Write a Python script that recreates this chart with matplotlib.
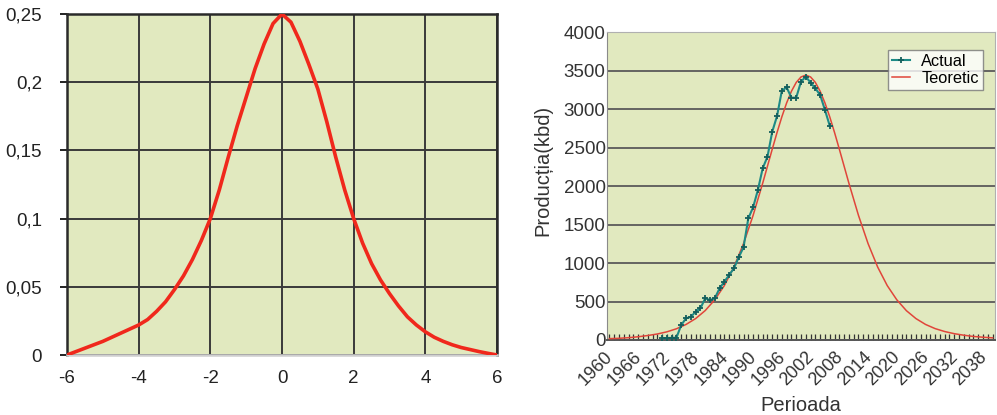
import matplotlib
matplotlib.use("Agg")
import matplotlib.pyplot as plt
import matplotlib.transforms as mtransforms
from matplotlib.ticker import FuncFormatter, MultipleLocator

# left panel: bell curve
bell_x = [-6, -5.75, -5.5, -5.25, -5, -4.75, -4.5, -4.25, -4, -3.75, -3.5, -3.25,
          -3, -2.75, -2.5, -2.25, -2, -1.75, -1.5, -1.25, -1, -0.75, -0.5, -0.25,
          0, 0.25, 0.5, 0.75, 1, 1.25, 1.5, 1.75, 2, 2.25, 2.5, 2.75, 3, 3.25,
          3.5, 3.75, 4, 4.25, 4.5, 4.75, 5, 5.25, 5.5, 5.75, 6]
bell_y = [0, 0.0025, 0.005, 0.0075, 0.010, 0.013, 0.016, 0.019, 0.022, 0.026,
          0.032, 0.039, 0.048, 0.058, 0.070, 0.084, 0.100, 0.121, 0.145, 0.168,
          0.189, 0.210, 0.228, 0.243, 0.25, 0.244, 0.230, 0.213, 0.195, 0.171,
          0.145, 0.121, 0.100, 0.082, 0.067, 0.055, 0.045, 0.036, 0.028, 0.022,
          0.017, 0.013, 0.010, 0.0075, 0.0055, 0.004, 0.0025, 0.0012, 0]

# right panel: production (kbd)
actual_years = list(range(1971, 2007))
actual_kbd = [22, 25, 28, 30, 195, 281, 300, 368, 411, 541, 519, 541, 671, 757, 844,
              931, 1074, 1204, 1580, 1723, 1948, 2229, 2381, 2706, 2909, 3238, 3281,
              3147, 3147, 3355, 3420, 3342, 3268, 3182, 2987, 2783]

theo_years = [1960, 1962, 1964, 1966, 1968, 1970, 1972, 1974, 1976, 1978, 1980,
              1982, 1984, 1986, 1988, 1990, 1992, 1994, 1995, 1996, 1997, 1998,
              1999, 2000, 2001, 2002, 2003, 2004, 2005, 2006, 2007, 2008, 2010,
              2012, 2014, 2016, 2018, 2020, 2022, 2024, 2026, 2028, 2030, 2032,
              2034, 2036, 2038, 2040]
theo_kbd = [18, 22, 30, 42, 58, 78, 106, 146, 202, 278, 382,
            522, 707, 948, 1252, 1618, 2036, 2479, 2695, 2898, 3079, 3230,
            3345, 3416, 3440, 3416, 3345, 3230, 3079, 2898, 2695, 2479, 2036,
            1618, 1252, 948, 707, 522, 381, 278, 202, 148, 110, 82,
            62, 46, 36, 28]

BG = "#e1e9bf"
W, H = 997, 415
plt.rcParams["font.family"] = ["Liberation Sans", "DejaVu Sans"]
plt.rcParams["axes.unicode_minus"] = False
fig = plt.figure(figsize=(W / 100, H / 100), dpi=100)

# ---- left ----
ax1 = fig.add_axes([67 / W, 1 - 355 / H, 430 / W, 341 / H])
ax1.set_facecolor(BG)
ax1.plot(bell_x, bell_y, color="#f0281c", lw=2.6, solid_capstyle="round",
         solid_joinstyle="round", zorder=3)
ax1.set_xlim(-6, 6)
ax1.set_ylim(0, 0.25)
ax1.xaxis.set_major_locator(MultipleLocator(2))
ax1.yaxis.set_major_locator(MultipleLocator(0.05))
ax1.yaxis.set_major_formatter(FuncFormatter(
    lambda v, _: "0" if abs(v) < 1e-9 else f"{v:.2f}".rstrip("0").replace(".", ",")))
ax1.grid(True, color="#3a3a3a", lw=1.4)
for s in ax1.spines.values():
    s.set_color("#2a2a2a")
    s.set_linewidth(1.8)
ax1.spines["bottom"].set_color("#cfcfcf")
ax1.tick_params(labelsize=13.5, colors="#222222", length=5, width=1.4, pad=13)
ax1.tick_params(axis="x", length=0, pad=11)
ax1.set_axisbelow(True)

# ---- right ----
ax2 = fig.add_axes([607 / W, 1 - 340 / H, 388 / W, 308 / H])
ax2.set_facecolor(BG)
ax2.plot(theo_years, theo_kbd, color="#e0453a", lw=1.1, label="Teoretic", zorder=3)
ax2.plot(actual_years, actual_kbd, color="#1d8a86", lw=1.5, marker="+", ms=4,
         mew=1.3, mec="#145f5c", label="Actual", zorder=4)
ax2.set_xlim(1959.5, 2040.5)
ax2.set_ylim(0, 4000)
ax2.set_xticks(list(range(1960, 2041, 6)))
ax2.xaxis.set_minor_locator(MultipleLocator(1))
ax2.yaxis.set_major_locator(MultipleLocator(500))
ax2.grid(True, axis="y", color="#5a5a5a", lw=1.3)
ax2.set_axisbelow(True)
for s in ("top", "right"):
    ax2.spines[s].set_color("#b0b0b0")
ax2.spines["left"].set_color("#8a8a8a")
ax2.spines["bottom"].set_color("#555555")
ax2.spines["bottom"].set_linewidth(1.4)
ax2.tick_params(axis="y", labelsize=13.5, length=0, pad=1, colors="#333333")
ax2.tick_params(axis="x", which="both", direction="in", length=4, width=0.9,
                color="#333333", labelsize=13, labelcolor="#333333", pad=6)
shift = mtransforms.ScaledTranslation(-5 / 100, 0, fig.dpi_scale_trans)
for lab in ax2.get_xticklabels():
    lab.set_rotation(45)
    lab.set_ha("right")
    lab.set_rotation_mode("anchor")
    lab.set_transform(lab.get_transform() + shift)
ax2.set_xlabel("Perioada", fontsize=14.5, color="#333333", labelpad=5)
ax2.set_ylabel("Producția(kbd)", fontsize=14.5, color="#333333")
ax2.yaxis.set_label_coords(-0.14, 0.55)

h, l = ax2.get_legend_handles_labels()
leg = ax2.legend(h[::-1], l[::-1], loc="upper right", bbox_to_anchor=(0.969, 0.942),
                 fontsize=11.8, frameon=True, fancybox=False, handlelength=1.1,
                 borderpad=0.25, labelspacing=0.1, handletextpad=0.7,
                 borderaxespad=0)
leg.get_frame().set_edgecolor("#777777")
leg.get_frame().set_linewidth(1.0)

fig.savefig("out.png", dpi=100, facecolor="white")
